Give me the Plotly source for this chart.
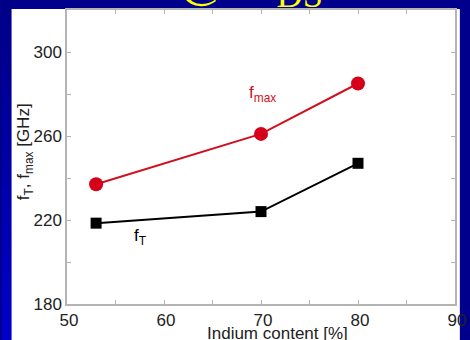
import plotly.graph_objects as go

indium = [53, 70, 80]
fmax = [237, 261, 285]
ft = [218.5, 224, 247]
x_ticks = [50, 60, 70, 80, 90]
y_ticks = [180, 220, 260, 300]

W, H = 470, 340
L, R, T, B = 67, 4, 10, 36
pw, ph = W - L - R, H - T - B

def px(x):
    return (x - L) / pw

def py(y):
    return (H - B - y) / ph

fig = go.Figure()
fig.add_trace(go.Scatter(x=indium, y=fmax, mode="lines+markers",
                         line=dict(color="#d0101c", width=2),
                         marker=dict(symbol="circle", size=14, color="#d6001a"),
                         showlegend=False))
fig.add_trace(go.Scatter(x=indium, y=ft, mode="lines+markers",
                         line=dict(color="black", width=2),
                         marker=dict(symbol="square", size=11, color="black"),
                         showlegend=False))

shapes = []
# left gradient strip
n = 20
for i in range(n):
    c = int(135 + (200 - 135) * i / (n - 1))
    shapes.append(dict(type="rect", xref="paper", yref="paper", layer="below",
                       x0=px(0), x1=px(10), y0=py(340 * i / n), y1=py(340 * (i + 1) / n),
                       fillcolor=f"rgb(0,0,{c})", line=dict(width=0)))
# white panel
shapes.append(dict(type="rect", xref="paper", yref="paper", layer="below",
                   x0=px(10), x1=px(471), y0=py(9), y1=py(341),
                   fillcolor="white", line=dict(width=0)))

ann = [
    dict(text="f<sub>max</sub>", x=70.2, y=280, xref="x", yref="y", showarrow=False,
         xanchor="center", yanchor="middle",
         font=dict(size=17, color="#d0101c")),
    dict(text="f<sub>T</sub>", x=57.5, y=212, xref="x", yref="y", showarrow=False,
         xanchor="center", yanchor="middle",
         font=dict(size=17, color="black")),
    dict(text="Indium content [%]", x=px(283), y=py(334), xref="paper", yref="paper",
         xanchor="center", yanchor="middle",
         showarrow=False, font=dict(size=17, color="#222")),
    dict(text="f<sub>T</sub>, f<sub>max</sub> [GHz]", x=px(24), y=py(152), xref="paper",
         yref="paper", xanchor="center", yanchor="middle",
         showarrow=False, textangle=-90, font=dict(size=17, color="#222")),
    dict(text="@ V<sub>DS</sub>", x=px(256), y=py(17), xref="paper", yref="paper",
         xanchor="center", yanchor="bottom", showarrow=False,
         font=dict(size=52, color="#ffff00", family="Liberation Serif")),
]

axis_common = dict(showline=True, linecolor="#b4b4b4", linewidth=1.5, mirror="ticks",
                   ticks="inside", ticklen=4, tickcolor="#b4b4b4", showgrid=False,
                   zeroline=False, ticklabeloverflow="allow",
                   tickfont=dict(size=17, color="#222", family="Liberation Sans"))

fig.update_layout(
    width=W, height=H,
    margin=dict(l=L, r=R, t=T, b=B, pad=0),
    paper_bgcolor="rgb(0,0,140)",
    plot_bgcolor="white",
    font=dict(family="Liberation Sans"),
    shapes=shapes,
    annotations=ann,
    xaxis=dict(range=[50, 90], tickvals=x_ticks, ticklabelshift=2,
               minor=dict(dtick=5, ticks="inside", ticklen=4, tickcolor="#b4b4b4"),
               **axis_common),
    yaxis=dict(range=[180, 320], tickvals=y_ticks,
               minor=dict(dtick=20, ticks="inside", ticklen=4, tickcolor="#b4b4b4"),
               **axis_common),
)
fig.write_html("out.html")
